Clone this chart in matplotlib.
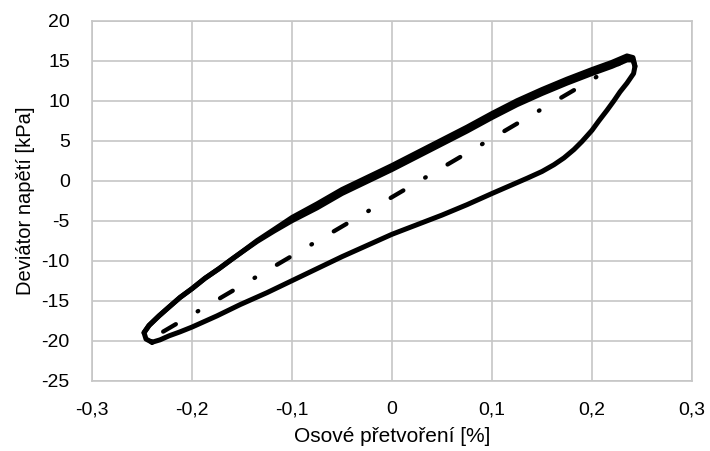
import matplotlib.pyplot as plt
from matplotlib.ticker import FuncFormatter

# hysteresis loop, cycle 1 (loading branch then unloading branch)
strain_1 = [
    -0.240, -0.246, -0.248, -0.243, -0.233, -0.223, -0.212, -0.200, -0.187,
    -0.173, -0.160, -0.150, -0.135, -0.118, -0.100, -0.075, -0.050, -0.025,
    0.000, 0.025, 0.050, 0.075, 0.100, 0.125, 0.150, 0.175, 0.200, 0.220,
    0.235, 0.241, 0.243, 0.2416, 0.235, 0.228, 0.222, 0.215, 0.207, 0.200,
    0.190, 0.182, 0.172, 0.162, 0.150, 0.135, 0.100, 0.075, 0.050, 0.025,
    0.000, -0.025, -0.050, -0.075, -0.100, -0.125, -0.152, -0.175, -0.200,
    -0.212, -0.223, -0.232, -0.240,
]
stress_1 = [
    -20.2, -19.8, -19.0, -18.1, -16.9, -15.8, -14.6, -13.5, -12.2,
    -11.0, -9.8, -8.9, -7.6, -6.3, -5.0, -3.4, -1.6, -0.1,
    1.4, 3.0, 4.6, 6.2, 7.9, 9.5, 10.9, 12.2, 13.4, 14.3,
    15.1, 15.1, 14.3, 13.4, 12.2, 11.1, 10.0, 8.8, 7.5, 6.3,
    4.9, 3.9, 2.85, 2.0, 1.15, 0.3, -1.6, -3.0, -4.3, -5.5,
    -6.7, -8.1, -9.5, -11.0, -12.5, -14.0, -15.5, -16.9, -18.3,
    -18.9, -19.4, -19.9, -20.2,
]

# cycle 2, loading branch only (runs slightly above cycle 1 on the right)
strain_2 = [
    -0.248, -0.243, -0.233, -0.223, -0.212, -0.200, -0.187, -0.173, -0.160,
    -0.150, -0.135, -0.118, -0.100, -0.075, -0.050, -0.025, 0.000, 0.025,
    0.050, 0.075, 0.100, 0.125, 0.150, 0.175, 0.200, 0.220, 0.235, 0.241,
    0.243,
]
stress_2 = [
    -19.0, -18.1, -16.9, -15.8, -14.6, -13.5, -12.2, -11.0, -9.8,
    -8.9, -7.5, -6.1, -4.6, -2.9, -1.1, 0.4, 1.9, 3.5,
    5.1, 6.7, 8.4, 10.0, 11.4, 12.7, 13.9, 14.8, 15.6, 15.4,
    14.3,
]

# linear fit (dash-dot line)
fit_strain = [-0.234, 0.230]
fit_stress = [-19.25, 14.85]

x_ticks = [-0.3, -0.2, -0.1, 0.0, 0.1, 0.2, 0.3]
y_ticks = [-25, -20, -15, -10, -5, 0, 5, 10, 15, 20]

plt.rcParams["font.family"] = ["Liberation Sans", "DejaVu Sans"]
plt.rcParams["axes.unicode_minus"] = False
plt.rcParams["lines.scale_dashes"] = False

fig = plt.figure(figsize=(7.1, 4.51), dpi=100)
ax = fig.add_axes([0.1296, 0.156, 0.845, 0.798])

grid_col = "#c6c6c6"
ax.plot(strain_1, stress_1, color="black", lw=3.6,
        solid_joinstyle="round", solid_capstyle="round", zorder=3)
ax.plot(strain_2, stress_2, color="black", lw=3.6,
        solid_joinstyle="round", solid_capstyle="round", zorder=3)
ax.plot(fit_strain, fit_stress, color="black", lw=3.1,
        linestyle=(43.2, (10.6, 18.2, 0.5, 18.2)), dash_capstyle="round",
        zorder=3)

ax.set_xlim(-0.3, 0.3)
ax.set_ylim(-25, 20)
ax.set_xticks(x_ticks)
ax.set_yticks(y_ticks)
ax.xaxis.set_major_formatter(
    FuncFormatter(lambda v, p: "0" if abs(v) < 1e-9 else f"{v:.1f}".replace(".", ","))
)
ax.grid(True, color=grid_col, lw=1.2)
ax.set_axisbelow(True)
for s in ax.spines.values():
    s.set_color(grid_col)
    s.set_linewidth(1.2)
ax.tick_params(length=0, labelsize=14, pad=15, colors="black")
ax.tick_params(axis="y", pad=16)

ax.set_xlabel("Osové přetvoření [%]", fontsize=15, labelpad=6)
ax.set_ylabel("Deviátor napětí [kPa]", fontsize=14.5, labelpad=5)

fig.savefig("out.png", dpi=100)
